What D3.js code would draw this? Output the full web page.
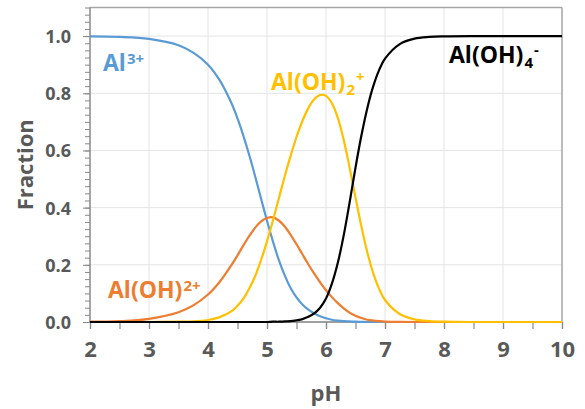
<!DOCTYPE html>
<html>
<head>
<meta charset="utf-8">
<script src="https://cdn.jsdelivr.net/npm/d3@7"></script>
<style>
  html, body { margin: 0; padding: 0; background: #fff; }
  svg { display: block; }
  text { font-family: "Open Sans", "DejaVu Sans", sans-serif; font-weight: bold; }
</style>
</head>
<body>
<svg id="chart" width="585" height="409"></svg>
<script>
// ---- data ----
const pH = [2, 2.5, 3, 3.5, 3.75, 4, 4.2, 4.4, 4.5, 4.6, 4.7, 4.8, 4.9, 5.0, 5.1, 5.2, 5.3, 5.4, 5.5, 5.6, 5.7, 5.8, 5.9, 6.0, 6.1, 6.2, 6.3, 6.4, 6.5, 6.6, 6.7, 6.8, 6.9, 7.0, 7.25, 7.5, 7.75, 8, 8.5, 9, 10];
const al3 = [0.999, 0.997, 0.990, 0.968, 0.942, 0.900, 0.845, 0.764, 0.712, 0.651, 0.583, 0.509, 0.431, 0.354, 0.282, 0.217, 0.163, 0.119, 0.086, 0.061, 0.043, 0.030, 0.020, 0.013, 0.008, 0.005, 0.003, 0.002, 0.001, 0.0005, 0, 0, 0, 0, 0, 0, 0, 0, 0, 0, 0];
const aloh = [0.001, 0.003, 0.011, 0.034, 0.058, 0.096, 0.141, 0.200, 0.233, 0.268, 0.301, 0.330, 0.352, 0.364, 0.366, 0.355, 0.334, 0.305, 0.272, 0.237, 0.202, 0.169, 0.139, 0.111, 0.087, 0.066, 0.048, 0.033, 0.022, 0.014, 0.008, 0.005, 0.003, 0.0015, 0.0003, 0, 0, 0, 0, 0, 0];
const aloh2 = [0, 0, 0, 0.001, 0.002, 0.007, 0.017, 0.038, 0.057, 0.082, 0.117, 0.161, 0.217, 0.282, 0.355, 0.432, 0.509, 0.581, 0.647, 0.703, 0.748, 0.779, 0.794, 0.791, 0.765, 0.714, 0.637, 0.540, 0.436, 0.334, 0.244, 0.171, 0.116, 0.077, 0.028, 0.009, 0.003, 0.001, 0, 0, 0];
const aloh4 = [0, 0, 0, 0, 0, 0, 0, 0, 0, 0, 0, 0, 0, 0, 0.001, 0.001, 0.002, 0.003, 0.006, 0.010, 0.018, 0.030, 0.050, 0.082, 0.134, 0.207, 0.303, 0.418, 0.540, 0.652, 0.748, 0.824, 0.881, 0.921, 0.972, 0.991, 0.997, 0.999, 1.0, 1.0, 1.0];
const xTicks = [2, 3, 4, 5, 6, 7, 8, 9, 10];
const yTicks = [0.0, 0.2, 0.4, 0.6, 0.8, 1.0];
const seriesNames = ["Al3+", "Al(OH)2+", "Al(OH)2+ (2)", "Al(OH)4-"];
const seriesColors = ["#5B9BD5", "#ED7D31", "#FFC000", "#000000"];

// ---- layout ----
const svg = d3.select("#chart");
const x = d3.scaleLinear().domain([2, 10]).range([90, 562]);
const y = d3.scaleLinear().domain([0, 1.1]).range([322, 7.5]);
const gray = "#595959";

// gridlines
const grid = svg.append("g");
grid.selectAll("line.gx").data(xTicks.slice(1, -1)).join("line")
  .attr("x1", d => x(d)).attr("x2", d => x(d))
  .attr("y1", y(0)).attr("y2", y(1.1))
  .attr("stroke", "#e4e4e4").attr("stroke-width", 1);
grid.selectAll("line.gy").data(yTicks.slice(1).concat([1.1])).join("line")
  .attr("x1", x(2)).attr("x2", x(10))
  .attr("y1", d => y(d)).attr("y2", d => y(d))
  .attr("stroke", "#e4e4e4").attr("stroke-width", 1);

// frame top/right
svg.append("line").attr("x1", x(2)).attr("x2", x(10)).attr("y1", y(1.1)).attr("y2", y(1.1))
  .attr("stroke", "#a6a6a6").attr("stroke-width", 1.5);
svg.append("line").attr("x1", x(10)).attr("x2", x(10)).attr("y1", y(1.1)).attr("y2", y(0))
  .attr("stroke", "#a6a6a6").attr("stroke-width", 1.5);

// y axis minor + major
const yMinor = d3.range(0, 44 + 1).map(i => i * 0.025);
const yAxisMinor = d3.axisLeft(y).tickValues(yMinor).tickSize(5).tickFormat("");
const gyMinor = svg.append("g").attr("transform", `translate(${x(2)},0)`).call(yAxisMinor);
gyMinor.select(".domain").remove();
gyMinor.selectAll("line").attr("stroke", "#898989").attr("stroke-width", 1);

const yAxis = d3.axisLeft(y).tickValues(yTicks).tickSize(7).tickPadding(12).tickFormat(d3.format(".1f"));
const gy = svg.append("g").attr("transform", `translate(${x(2)},0)`).call(yAxis);
gy.select(".domain").attr("stroke", "#898989").attr("stroke-width", 1.5).attr("d", `M0,${y(1.1)}V${y(0)}`);
gy.selectAll("line").attr("stroke", "#898989").attr("stroke-width", 1);
gy.selectAll("text").attr("fill", gray).style("font-size", "18px").attr("dy", "0.36em");

// x axis
const xMinor = d3.range(2, 10.01, 0.5);
const xAxisMinor = d3.axisBottom(x).tickValues(xMinor).tickSize(7).tickFormat("");
const gxMinor = svg.append("g").attr("transform", `translate(0,${y(0)})`).call(xAxisMinor);
gxMinor.select(".domain").remove();
gxMinor.selectAll("line").attr("stroke", "#898989").attr("stroke-width", 1.2);

const xAxis = d3.axisBottom(x).tickValues(xTicks).tickSize(7).tickPadding(12).tickFormat(d3.format("d"));
const gx = svg.append("g").attr("transform", `translate(0,${y(0)})`).call(xAxis);
gx.select(".domain").attr("stroke", "#7f7f7f").attr("stroke-width", 1.5).attr("d", `M${x(2)},0H${x(10)}`);
gx.selectAll("line").attr("stroke", "#898989").attr("stroke-width", 1.2);
gx.selectAll("text").attr("fill", gray).style("font-size", "22px").attr("dy", "0.71em");

// axis titles
svg.append("text").attr("x", x(6)).attr("y", 401).attr("text-anchor", "middle")
  .attr("fill", gray).style("font-size", "22px").text("pH");
svg.append("text").attr("transform", `translate(33,${(y(0) + y(1.1)) / 2}) rotate(-90)`)
  .attr("text-anchor", "middle").attr("fill", gray).style("font-size", "22px").text("Fraction");

// series lines
const seriesData = [al3, aloh, aloh2, aloh4];
const line = d3.line().x(d => x(d[0])).y(d => y(d[1])).curve(d3.curveCatmullRom.alpha(0.5));
const gLines = svg.append("g");
seriesData.forEach((vals, i) => {
  gLines.append("path")
    .datum(pH.map((p, j) => [p, vals[j]]))
    .attr("d", line)
    .attr("fill", "none")
    .attr("stroke", seriesColors[i])
    .attr("stroke-width", 2.2)
    .attr("stroke-linejoin", "round");
});

// series labels
function label(xp, yp, color, parts) {
  const t = svg.append("text").attr("x", xp).attr("y", yp).attr("fill", color).style("font-size", "23px");
  parts.forEach(p => {
    const ts = t.append("tspan").text(p.text);
    if (p.dy) ts.attr("dy", p.dy);
    if (p.size) ts.style("font-size", p.size);
    if (p.dx) ts.attr("dx", p.dx);
  });
}
label(103, 71, seriesColors[0], [{ text: "Al" }, { text: "3+", dy: -7.5, size: "15px", dx: 1 }]);
label(108, 298, seriesColors[1], [{ text: "Al(OH)" }, { text: "2+", dy: -7.5, size: "15px", dx: 1 }]);
label(271, 89.5, seriesColors[2], [{ text: "Al(OH)" }, { text: "2", dy: 5, size: "15px", dx: 1 }, { text: "+", dy: -12.5, size: "15px", dx: 1 }]);
label(449, 63, seriesColors[3], [{ text: "Al(OH)" }, { text: "4", dy: 5, size: "15px", dx: 1 }, { text: "-", dy: -13, size: "15px", dx: 1 }]);
</script>
</body>
</html>
